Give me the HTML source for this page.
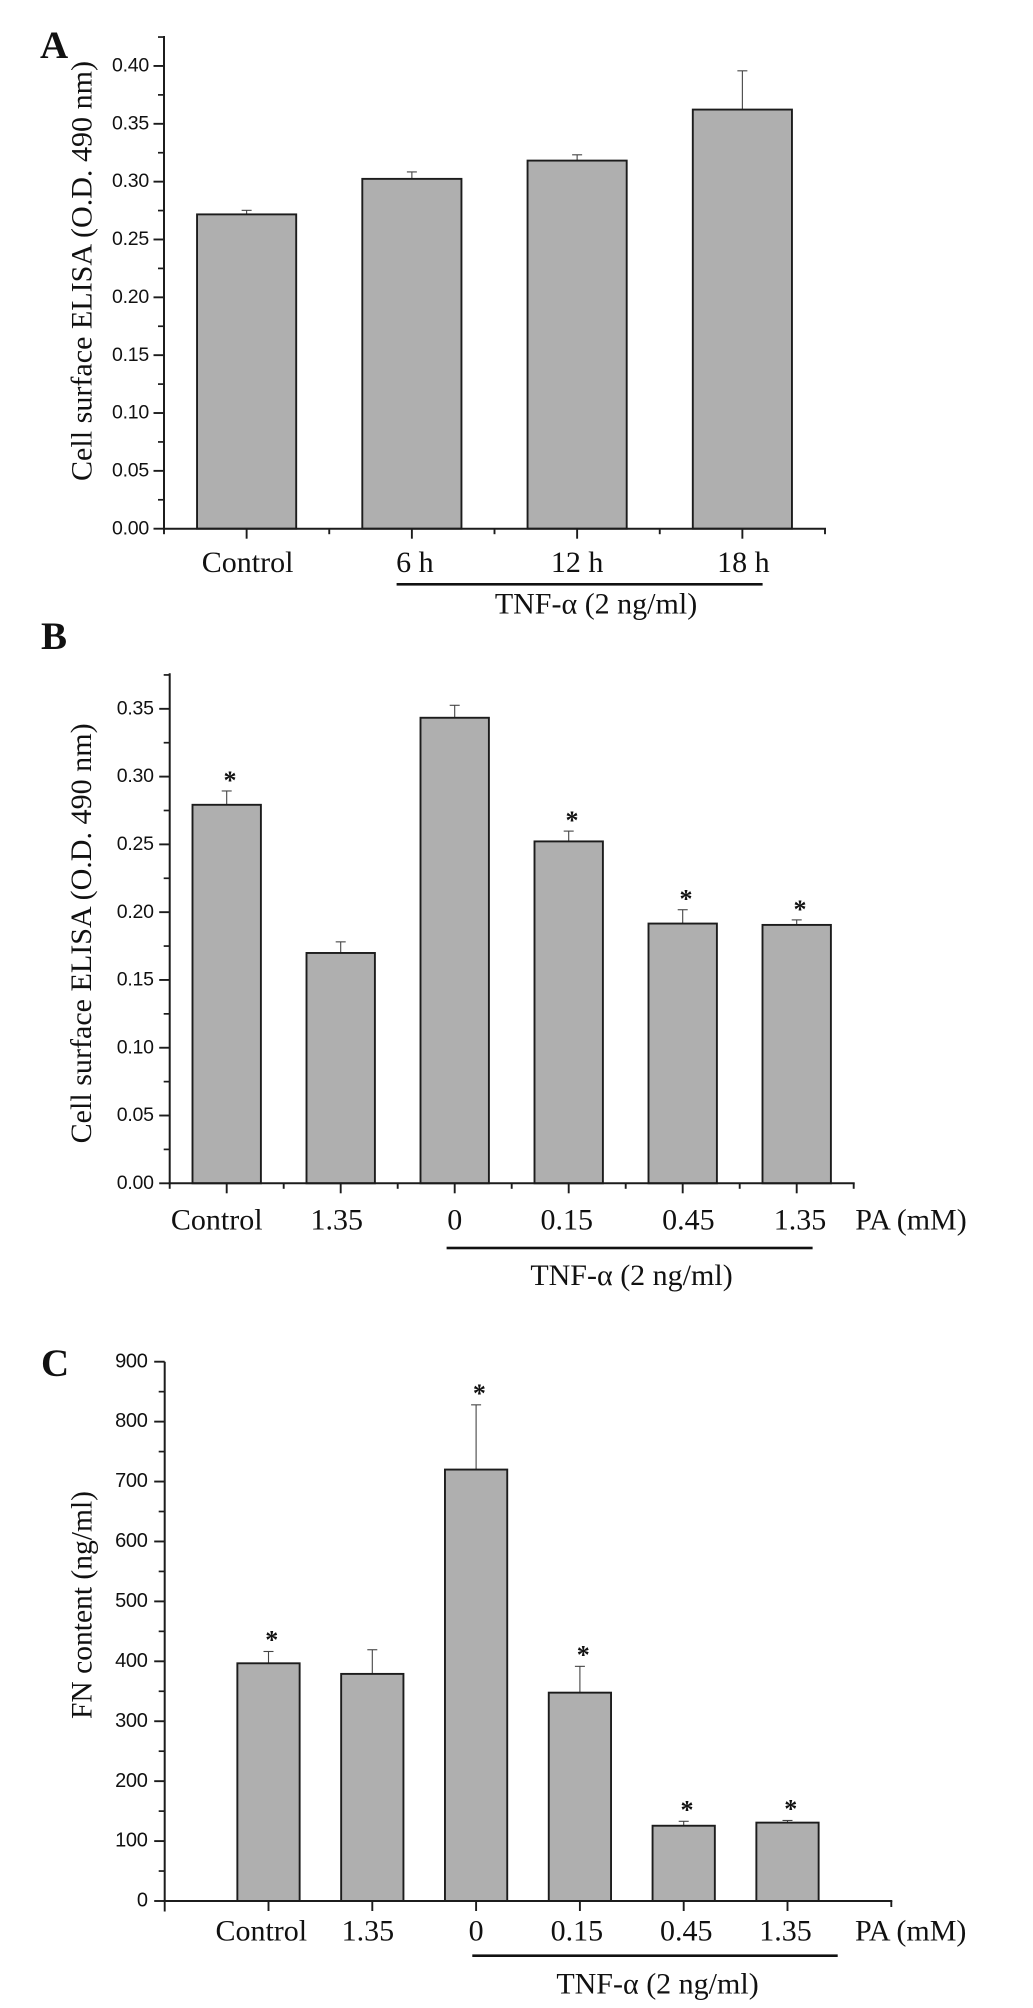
<!DOCTYPE html>
<html lang="en">
<head>
<meta charset="utf-8">
<title>Cell surface ELISA and FN content bar charts</title>
<style>
html,body{margin:0;padding:0;background:#fff;}
svg{display:block;}
.serif{font-family:"Liberation Serif","Noto Serif CJK SC",serif;fill:#111;}
.sans{font-family:"Liberation Sans",sans-serif;fill:#111;}
.title{font-size:30px;}
.panel{font-size:39px;font-weight:bold;}
</style>
</head>
<body>
<svg id="figure" width="1033" height="2008" viewBox="0 0 1033 2008" xmlns="http://www.w3.org/2000/svg">
  <rect x="0" y="0" width="1033" height="2008" fill="#fff"/>

  <g id="chartA"></g>
  <g id="chartB"></g>
  <g id="chartC"></g>

  <text class="serif panel" x="40" y="58">A</text>
  <text class="serif panel" x="41" y="649">B</text>
  <text class="serif panel" x="41" y="1376">C</text>

  <text class="serif title" text-anchor="middle" transform="translate(91.5 271) rotate(-90)" textLength="420" lengthAdjust="spacingAndGlyphs">Cell surface ELISA (O.D. 490 nm)</text>
  <text class="serif title" text-anchor="middle" transform="translate(91 933.4) rotate(-90)" textLength="420" lengthAdjust="spacingAndGlyphs">Cell surface ELISA (O.D. 490 nm)</text>
  <text class="serif title" text-anchor="middle" transform="translate(91.5 1605) rotate(-90)" textLength="228" lengthAdjust="spacingAndGlyphs">FN content (ng/ml)</text>

  <rect x="396.6" y="583" width="366" height="2.6" fill="#111"/>
  <text class="serif title" text-anchor="middle" x="596" y="613.3">TNF-α (2 ng/ml)</text>

  <rect x="446.6" y="1246.7" width="366" height="2.6" fill="#111"/>
  <text class="serif title" text-anchor="middle" x="631.5" y="1285">TNF-α (2 ng/ml)</text>
  <text class="serif title" text-anchor="middle" x="911" y="1229.3">PA (mM)</text>

  <rect x="472.3" y="1954.4" width="365.4" height="2.6" fill="#111"/>
  <text class="serif title" text-anchor="middle" x="657.5" y="1993.5">TNF-α (2 ng/ml)</text>
  <text class="serif title" text-anchor="middle" x="910.7" y="1940.7">PA (mM)</text>
</svg>

<script>
// Panel A data
const aCategories = ['Control', '6 h', '12 h', '18 h'];
const aValues = [0.2717, 0.3024, 0.3182, 0.3623];
const aErrors = [0.0035, 0.0060, 0.0050, 0.0335];
const aStars = [false, false, false, false];
const aTickLabels = ['0.00', '0.05', '0.10', '0.15', '0.20', '0.25', '0.30', '0.35', '0.40'];
const aMinorTicks = [0.025, 0.075, 0.125, 0.175, 0.225, 0.275, 0.325, 0.375, 0.425];

// Panel B data
const bCategories = ['Control', '1.35', '0', '0.15', '0.45', '1.35'];
const bValues = [0.2792, 0.1699, 0.3434, 0.2522, 0.1916, 0.1906];
const bErrors = [0.0102, 0.0082, 0.0092, 0.0076, 0.0102, 0.0037];
const bStars = [true, false, false, true, true, true];
const bTickLabels = ['0.00', '0.05', '0.10', '0.15', '0.20', '0.25', '0.30', '0.35'];
const bMinorTicks = [0.025, 0.075, 0.125, 0.175, 0.225, 0.275, 0.325, 0.375];

// Panel C data
const cCategories = ['Control', '1.35', '0', '0.15', '0.45', '1.35'];
const cValues = [396.7, 379, 720, 347.7, 125.6, 130.8];
const cErrors = [19.7, 40.3, 108, 43.9, 7.4, 3.6];
const cStars = [true, false, true, true, true, true];
const cTickLabels = ['0', '100', '200', '300', '400', '500', '600', '700', '800', '900'];
const cMinorTicks = [50, 150, 250, 350, 450, 550, 650, 750, 850];

const SVG_NS = 'http://www.w3.org/2000/svg';
const INK = '#1c1c1c';

function make(parent, tag, attrs) {
  const node = document.createElementNS(SVG_NS, tag);
  for (const key in attrs) node.setAttribute(key, attrs[key]);
  parent.appendChild(node);
  return node;
}

function drawChart(group, d, o) {
  const yScale = v => o.y0 - (v / o.yMax) * (o.y0 - o.yTop);
  const step = (o.x1 - o.x0) / o.slots;
  const xScale = i => o.x0 + (i + o.firstSlot) * step;
  const barW = step * 0.6;

  d.values.forEach((value, i) => {
    const cx = xScale(i);
    const top = yScale(value + d.errors[i]);

    const errLine = make(group, 'line', {x1: cx, x2: cx, y1: yScale(value), y2: top, stroke: '#444', 'stroke-width': 1.1});
    
    

    const errCap = make(group, 'line', {x1: cx - 5, x2: cx + 5, y1: top, y2: top, stroke: '#444', 'stroke-width': 1.1});
    
    

    const bar = make(group, 'rect', {x: cx - barW / 2, y: yScale(value), width: barW, height: o.y0 - yScale(value), fill: '#afafaf', stroke: INK, 'stroke-width': 1.9});
    
    

    if (d.stars[i]) {
      const star = make(group, 'text', {x: cx + 3.3, y: top - o.starLift + 13, 'text-anchor': 'middle', 'class': 'serif', 'font-size': 26, 'font-weight': 'bold'});
      
      
      star.textContent = '*';
    }

    const label = make(group, 'text', {x: cx + o.labelNudge[i], y: o.labelY, 'text-anchor': 'middle', 'class': 'serif title'});
    
    
    label.textContent = d.categories[i];

    const xTick = make(group, 'line', {x1: cx, x2: cx, y1: o.y0, y2: o.y0 + 10, stroke: INK, 'stroke-width': 1.9});
    
    
  });

  // x-axis boundary ticks
  if (o.boundaryTicks) {
    for (let i = 0; i <= o.slots; i++) {
      const tx = o.x0 + i * step;
      const xMinor = make(group, 'line', {x1: tx, x2: tx, y1: o.y0, y2: o.y0 + 5.5, stroke: INK, 'stroke-width': 1.9});
      
      
    }
  } else {
    const originTick = make(group, 'line', {x1: o.x0, x2: o.x0, y1: o.y0, y2: o.y0 + 10.5, stroke: INK, 'stroke-width': 1.9});
    
    

    const endTick = make(group, 'line', {x1: o.x1, x2: o.x1, y1: o.y0, y2: o.y0 + 6, stroke: INK, 'stroke-width': 1.9});
    
    
  }

  // y axis ticks and labels
  d.tickLabels.forEach(text => {
    const v = parseFloat(text);
    const ty = yScale(v);

    const yTick = make(group, 'line', {x1: o.x0 - 10.5, x2: o.x0, y1: ty, y2: ty, stroke: INK, 'stroke-width': 1.9});
    
    

    const tickText = make(group, 'text', {x: o.x0 + o.tickTextGap, y: ty + 5.6, 'text-anchor': 'end', 'class': 'sans', 'font-size': o.tickSize, 'letter-spacing': -0.25});
    
    
    tickText.textContent = text;
  });

  d.minorTicks.forEach((v, i) => {
    const ty = yScale(v);
    const yMinor = make(group, 'line', {x1: o.x0 - 6, x2: o.x0, y1: ty, y2: ty, stroke: INK, 'stroke-width': 1.7});
    
    
  });

  const yAxis = make(group, 'line', {x1: o.x0, x2: o.x0, y1: yScale(o.yMax), y2: o.y0 + 1, stroke: INK, 'stroke-width': 2});
  
  

  const xAxis = make(group, 'line', {x1: o.x0 - 1, x2: o.x1 + 1, y1: o.y0, y2: o.y0, stroke: INK, 'stroke-width': 2});
  
  
}

drawChart(document.getElementById('chartA'),
  {categories: aCategories, values: aValues, errors: aErrors, stars: aStars, tickLabels: aTickLabels, minorTicks: aMinorTicks},
  {x0: 164, x1: 825, y0: 528.7, yTop: 36, yMax: 0.4259, slots: 4, firstSlot: 0.5, boundaryTicks: true,
   labelY: 572, labelNudge: [1, 3, 0, 1], tickTextGap: -15, tickSize: 19.5, starLift: 15});

drawChart(document.getElementById('chartB'),
  {categories: bCategories, values: bValues, errors: bErrors, stars: bStars, tickLabels: bTickLabels, minorTicks: bMinorTicks},
  {x0: 169.7, x1: 853.7, y0: 1183.3, yTop: 673.3, yMax: 0.3762, slots: 6, firstSlot: 0.5, boundaryTicks: true,
   labelY: 1229.3, labelNudge: [-10, -4, 0, -2, 5.7, 3.3], tickTextGap: -16, tickSize: 19.5, starLift: 15});

drawChart(document.getElementById('chartC'),
  {categories: cCategories, values: cValues, errors: cErrors, stars: cStars, tickLabels: cTickLabels, minorTicks: cMinorTicks},
  {x0: 164.7, x1: 891.3, y0: 1901, yTop: 1361.7, yMax: 900, slots: 7, firstSlot: 1, boundaryTicks: false,
   labelY: 1940.7, labelNudge: [-7.2, -4.4, 0, -3, 2.5, -2], tickTextGap: -17, tickSize: 20, starLift: 16});
</script>
</body>
</html>
